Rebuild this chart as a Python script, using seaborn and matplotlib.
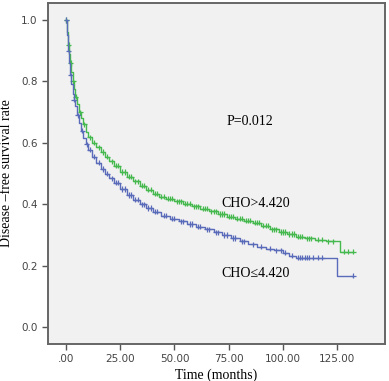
import numpy as np
import pandas as pd
import matplotlib
matplotlib.use("Agg")
import matplotlib.pyplot as plt
import seaborn as sns

# step points (time in months, survival)
hi_time = [0, 0.5, 1, 1.5, 2, 2.5, 3, 3.5, 4, 5, 6, 7, 8, 9, 10, 12, 14, 16, 18, 20,
           22, 25, 28, 31, 34, 37, 40, 43, 46, 50, 54, 58, 62, 66, 70, 74, 78, 82, 86,
           90, 94, 98, 102, 106, 110, 115, 120, 126.5, 132.5]
hi_surv = [1.0, 0.96, 0.92, 0.89, 0.86, 0.83, 0.80, 0.775, 0.75, 0.725, 0.70, 0.68, 0.66,
           0.635, 0.618, 0.60, 0.585, 0.57, 0.555, 0.54, 0.525, 0.505, 0.49, 0.475, 0.46,
           0.447, 0.435, 0.425, 0.418, 0.41, 0.402, 0.393, 0.385, 0.377, 0.368, 0.36, 0.353,
           0.347, 0.34, 0.33, 0.318, 0.31, 0.303, 0.295, 0.289, 0.284, 0.28, 0.245, 0.245]

lo_time = [0, 0.5, 1, 1.5, 2, 2.5, 3, 3.5, 4, 5, 6, 7, 8, 9, 10, 12, 14, 16, 18, 20,
           22, 25, 28, 31, 34, 37, 40, 44, 48, 52, 56, 60, 64, 68, 72, 76, 80, 84, 88,
           92, 96, 100, 103, 106, 125, 132.5]
lo_surv = [1.0, 0.95, 0.90, 0.86, 0.82, 0.79, 0.76, 0.74, 0.72, 0.69, 0.665, 0.64, 0.615,
           0.595, 0.578, 0.555, 0.535, 0.515, 0.50, 0.485, 0.47, 0.45, 0.43, 0.415, 0.40,
           0.388, 0.376, 0.363, 0.353, 0.345, 0.336, 0.327, 0.318, 0.309, 0.30, 0.29, 0.28,
           0.27, 0.262, 0.255, 0.25, 0.242, 0.232, 0.226, 0.168, 0.168]

# censored observations (months)
hi_cens = [0.2, 1.2, 2.2, 3.2, 4.5, 6.5, 8.5, 11, 13, 15, 17, 19, 21, 23, 24, 26, 27, 29,
           30, 32, 33, 35, 36, 38, 39, 41, 42, 44, 45, 47, 48, 49, 51, 52, 53, 55, 56, 57,
           59, 60, 61, 63, 64, 65, 67, 68, 69, 71, 72, 73, 75, 76, 77, 79, 80, 81, 83, 84,
           85, 87, 88, 89, 91, 92, 93, 95, 96, 97, 99, 100, 101, 103, 104, 105, 107, 108,
           109, 111, 112, 113, 116, 118, 121, 123, 128, 130, 132.5]
lo_cens = [0.2, 1.2, 2.2, 3.7, 5.5, 7.5, 9.5, 11, 13, 15, 17, 19, 21, 23, 24, 26, 27, 29,
           30, 32, 33, 35, 36, 38, 39, 41, 42, 45, 46, 49, 50, 53, 54, 57, 58, 61, 62, 65,
           66, 69, 70, 73, 74, 77, 78, 81, 82, 86, 90, 94, 97, 99, 101, 104, 107, 108, 109,
           110, 111, 112, 114, 116, 118, 132.5]

groups = ["CHO>4.420", "CHO\u22644.420"]
colors = {"CHO>4.420": "#45b94e", "CHO\u22644.420": "#5a6bba"}

curve = pd.concat([
    pd.DataFrame({"time": hi_time, "surv": hi_surv, "group": groups[0]}),
    pd.DataFrame({"time": lo_time, "surv": lo_surv, "group": groups[1]}),
])


def at(times, t_steps, s_steps):
    idx = np.searchsorted(t_steps, times, side="right") - 1
    return np.array(s_steps)[idx]


cens = pd.concat([
    pd.DataFrame({"time": hi_cens, "surv": at(hi_cens, hi_time, hi_surv), "group": groups[0]}),
    pd.DataFrame({"time": lo_cens, "surv": at(lo_cens, lo_time, lo_surv), "group": groups[1]}),
])

fig = plt.figure(figsize=(3.89, 3.81), dpi=100)
ax = fig.add_axes([0.1234, 0.097, 0.866, 0.895])
ax.set_facecolor("#f1f1f1")

sns.lineplot(data=curve, x="time", y="surv", hue="group", palette=colors,
             drawstyle="steps-post", linewidth=1.0, legend=False, ax=ax)
sns.scatterplot(data=cens, x="time", y="surv", hue="group", palette=colors,
                marker="+", s=14, linewidth=0.9, legend=False, ax=ax)

ax.set_xlim(-8.3, 147)
ax.set_ylim(-0.055, 1.055)
ax.set_xticks([0, 25, 50, 75, 100, 125])
ax.set_xticklabels([".00", "25.00", "50.00", "75.00", "100.00", "125.00"])
ax.set_yticks([0.0, 0.2, 0.4, 0.6, 0.8, 1.0])
ax.set_yticklabels(["0.0", "0.2", "0.4", "0.6", "0.8", "1.0"])
ax.tick_params(direction="out", length=4, width=1, color="#555555",
               labelsize=7.5, labelcolor="#444444")
for sp in ax.spines.values():
    sp.set_color("#666666")
    sp.set_linewidth(1.4)

serif = "Liberation Serif"
ax.set_xlabel("Time (months)", family=serif, fontsize=10, labelpad=3)
ax.set_ylabel("Disease \u2013free survival rate", family=serif, fontsize=10, labelpad=6)
ax.text(0.53, 0.642, "P=0.012", transform=ax.transAxes, family=serif, fontsize=10)
ax.text(0.516, 0.403, "CHO>4.420", transform=ax.transAxes, family=serif, fontsize=10)
ax.text(0.516, 0.198, "CHO\u22644.420", transform=ax.transAxes, family=serif, fontsize=10)

fig.savefig("out.png", dpi=100)
